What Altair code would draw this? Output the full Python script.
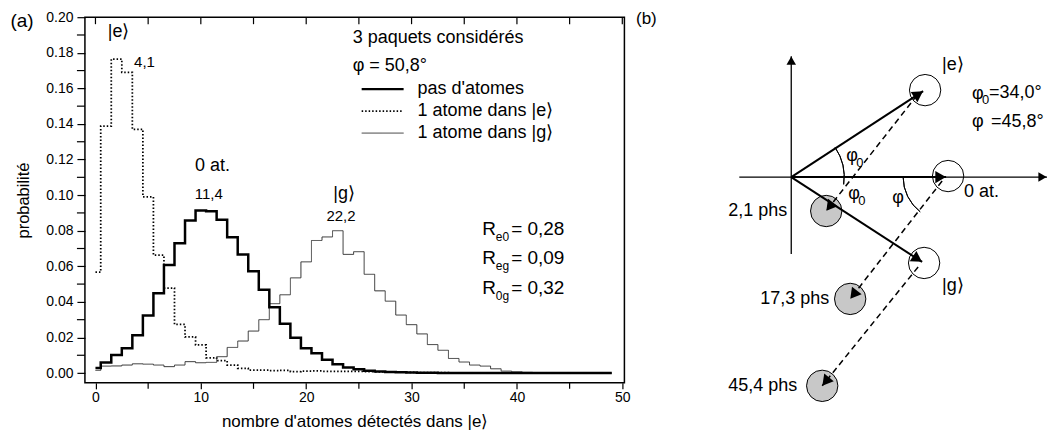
import math
import altair as alt
import pandas as pd

FONT = "Liberation Sans"

# ---------------- panel (a) data ----------------
n_atoms = list(range(50))
p_zero = [0.0028, 0.0060, 0.0101, 0.0140, 0.0212, 0.0324, 0.0448, 0.0607, 0.0729, 0.0857,
          0.0914, 0.0910, 0.0862, 0.0763, 0.0667, 0.0572, 0.0468, 0.0370, 0.0277, 0.0198,
          0.0140, 0.0112, 0.0075, 0.0049, 0.0031, 0.0021, 0.0013, 0.0009, 0.0006, 0.0004,
          0.0003, 0.0002, 0.0002, 0.0001, 0.0001, 0, 0, 0, 0, 0,
          0, 0, 0, 0, 0, 0, 0, 0, 0, 0]
p_e = [0.0567, 0.1388, 0.1765, 0.1690, 0.1370, 0.0990, 0.0663, 0.0478, 0.0273, 0.0203,
       0.0158, 0.0086, 0.0070, 0.0045, 0.0027, 0.0017, 0.0016, 0.0013, 0.0015, 0.0008,
       0.0011, 0.0012, 0.0010, 0.0010, 0.0009, 0.0009, 0.0008, 0.0007, 0.0006, 0.0005,
       0.0004, 0.0003, 0.0002, 0.0002, 0.0001, 0.0001, 0, 0, 0, 0,
       0, 0, 0, 0, 0, 0, 0, 0, 0, 0]
p_g = [0.0015, 0.0039, 0.0040, 0.0045, 0.0052, 0.0050, 0.0045, 0.0036, 0.0045, 0.0064,
       0.0058, 0.0060, 0.0092, 0.0144, 0.0180, 0.0236, 0.0300, 0.0390, 0.0440, 0.0535,
       0.0625, 0.0745, 0.0765, 0.0800, 0.0667, 0.0682, 0.0555, 0.0462, 0.0404, 0.0326,
       0.0272, 0.0220, 0.0160, 0.0128, 0.0082, 0.0062, 0.0045, 0.0039, 0.0024, 0.0011,
       0.0007, 0.0004, 0.0002, 0.0001, 0, 0, 0, 0, 0, 0]
series = ["pas d'atomes", "1 atome dans |e⟩", "1 atome dans |g⟩"]

x_major = [0, 10, 20, 30, 40, 50]
x_minor = [5, 15, 25, 35, 45]
y_major = [0.0, 0.02, 0.04, 0.06, 0.08, 0.10, 0.12, 0.14, 0.16, 0.18, 0.20]
y_minor = [0.01, 0.03, 0.05, 0.07, 0.09, 0.11, 0.13, 0.15, 0.17, 0.19]

ann_text = ["|e⟩", "4,1", "0 at.", "11,4", "|g⟩", "22,2"]
ann_x = [2.2, 4.65, 11.1, 10.75, 23.6, 23.3]
ann_y = [0.1915, 0.175, 0.1163, 0.1007, 0.1007, 0.0883]
ann_big = [True, False, True, False, True, False]

r_sub = ["e0", "eg", "0g"]
r_val = ["= 0,28", "= 0,09", "= 0,32"]
r_y = [0.0812, 0.0646, 0.0480]

# ---------------- panel (b) data ----------------
origin = (794, 176)
state_label = ["|e⟩", "0 at.", "|g⟩"]
state_cx = [928, 951, 927]
state_cy = [89, 175, 262]
tip_x = [926, 949, 925]
tip_y = [90, 176, 261]
phs_label = ["2,1 phs", "17,3 phs", "45,4 phs"]
phs_cx = [829, 853, 825]
phs_cy = [210, 298, 385]
dash_x0 = [920, 945, 921]
dash_y0 = [94, 180, 266]
axis_x0 = [794, 742]
axis_y0 = [253, 176]
axis_x1 = [794, 1050]
axis_y1 = [55, 176]

# ---------------- panel (a) ----------------
df = pd.DataFrame({
    "n": n_atoms * 3,
    "p": p_zero + p_e + p_g,
    "serie": [series[0]] * 50 + [series[1]] * 50 + [series[2]] * 50,
})

PLOT_W, PLOT_H = 540, 366
xs = alt.Scale(domain=[-1, 50.2], nice=False, zero=False)
ys = alt.Scale(domain=[-0.0055, 0.2], nice=False, zero=False)

leg = alt.Legend(
    title=["3 paquets considérés", "φ = 50,8°"], orient="none", legendX=268, legendY=12,
    symbolType="M0,0H8.4", symbolSize=100, labelOffset=47,
    labelFont=FONT, labelFontSize=18, labelColor="black", labelLimit=400,
    titleFont=FONT, titleFontSize=18, titleFontWeight="normal", titleColor="black",
    titleLineHeight=28, titlePadding=5, rowPadding=4, padding=0, titleLimit=400,
)

x_axis = alt.Axis(values=x_major, format="d", labelOverlap=False,
                  title="nombre d'atomes détectés dans |e⟩", titleFont=FONT, titleFontSize=17,
                  titleFontWeight="normal", titleColor="black", titlePadding=9,
                  labelFont=FONT, labelFontSize=14, labelColor="black", labelPadding=2,
                  tickSize=6, tickColor="black", tickWidth=1.2, domain=False, grid=False)
y_axis = alt.Axis(values=y_major, format=".2f", labelOverlap=False,
                  title="probabilité", titleFont=FONT, titleFontSize=16.5, titleFontWeight="normal",
                  titleColor="black", titlePadding=14,
                  labelFont=FONT, labelFontSize=14, labelColor="black", labelPadding=4,
                  tickSize=8, tickColor="black", tickWidth=1.2, domain=False, grid=False)


def AX(f):
    return alt.X(f, type="quantitative", scale=xs, axis=x_axis)


def AY(f):
    return alt.Y(f, type="quantitative", scale=ys, axis=y_axis)


def series_layer(data):
    return alt.Chart(data).mark_line(interpolate="step").encode(
        x=AX("n"),
        y=AY("p"),
        color=alt.Color("serie:N", scale=alt.Scale(domain=series, range=["#000000", "#000000", "#333333"]), legend=leg),
        strokeDash=alt.StrokeDash("serie:N", scale=alt.Scale(domain=series, range=[[1, 0], [1.5, 2], [1, 0]]), legend=leg),
        strokeWidth=alt.StrokeWidth("serie:N", scale=alt.Scale(domain=series, range=[2.5, 1.0, 1.5]), legend=leg),
    )


back = series_layer(df[df["serie"] != series[0]])
front = series_layer(df[df["serie"] == series[0]])

# minor ticks (outside, left and bottom) and mirrored ticks on top
tick_rule = dict(color="black", strokeWidth=1.2)
y_minor_ticks = alt.Chart(pd.DataFrame({"v": y_minor})).mark_rule(**tick_rule).encode(
    y=AY("v"), x=alt.value(-8), x2=alt.value(0))
x_minor_ticks = alt.Chart(pd.DataFrame({"v": x_minor})).mark_rule(**tick_rule).encode(
    x=AX("v"), y=alt.value(PLOT_H), y2=alt.value(PLOT_H + 6))
top_ticks = alt.Chart(pd.DataFrame({"v": x_major + x_minor})).mark_rule(**tick_rule).encode(
    x=AX("v"), y=alt.value(0), y2=alt.value(7))

ann_df = pd.DataFrame({"text": ann_text, "x": ann_x, "y": ann_y, "big": ann_big})
ann_big_layer = alt.Chart(ann_df[ann_df["big"]]).mark_text(font=FONT, fontSize=18, color="black").encode(
    x=AX("x"), y=AY("y"), text="text:N")
ann_small_layer = alt.Chart(ann_df[~ann_df["big"]]).mark_text(font=FONT, fontSize=15, color="black").encode(
    x=AX("x"), y=AY("y"), text="text:N")

r_df = pd.DataFrame({"R": ["R"] * 3, "sub": r_sub, "val": r_val, "y": r_y,
                     "xr": [36.7] * 3, "xs": [38.0] * 3, "xv": [39.45] * 3})
r_main = alt.Chart(r_df).mark_text(font=FONT, fontSize=19, align="left", color="black").encode(
    x=AX("xr"), y=AY("y"), text="R:N")
r_subs = alt.Chart(r_df).mark_text(font=FONT, fontSize=12, align="left", dy=8, color="black").encode(
    x=AX("xs"), y=AY("y"), text="sub:N")
r_vals = alt.Chart(r_df).mark_text(font=FONT, fontSize=19, align="left", color="black").encode(
    x=AX("xv"), y=AY("y"), text="val:N")

tag_a = alt.Chart(pd.DataFrame({"t": ["(a)"]})).mark_text(font=FONT, fontSize=19, color="black").encode(
    x=alt.value(-63), y=alt.value(4), text="t:N")

panel_a = alt.layer(back, front, y_minor_ticks, x_minor_ticks, top_ticks, ann_big_layer, ann_small_layer,
                    r_main, r_subs, r_vals, tag_a).properties(
    width=PLOT_W, height=PLOT_H, view=alt.ViewBackground(stroke="black", strokeWidth=1.5))

# ---------------- panel (b) ----------------
bx = alt.Scale(domain=[650, 1048], range=[0, 398], nice=False, zero=False)
by = alt.Scale(domain=[16, 382], range=[0, 366], nice=False, zero=False)


def X(f):
    return alt.X(f, type="quantitative", scale=bx, axis=None)


def Y(f):
    return alt.Y(f, type="quantitative", scale=by, axis=None)


def heads(x0s, y0s, x1s, y1s, length):
    rows = []
    for a, b, c, d in zip(x0s, y0s, x1s, y1s):
        dx, dy = c - a, d - b
        L = math.hypot(dx, dy)
        ux, uy = dx / L, dy / L
        rows.append({"x": c - ux * length / 2, "y": d - uy * length / 2,
                     "ang": math.degrees(math.atan2(dx, -dy)) % 360})
    return pd.DataFrame(rows)


axes_df = pd.DataFrame({"x": axis_x0, "y": axis_y0, "x2": axis_x1, "y2": axis_y1})
vec_df = pd.DataFrame({"x": [origin[0]] * 3, "y": [origin[1]] * 3, "x2": tip_x, "y2": tip_y})
dash_df = pd.DataFrame({"x": dash_x0, "y": dash_y0, "x2": phs_cx, "y2": phs_cy})

axes_lines = alt.Chart(axes_df).mark_rule(color="black", strokeWidth=1.3).encode(
    x=X("x"), y=Y("y"), x2="x2:Q", y2="y2:Q")
vec_lines = alt.Chart(vec_df).mark_rule(color="black", strokeWidth=2).encode(
    x=X("x"), y=Y("y"), x2="x2:Q", y2="y2:Q")
dash_lines = alt.Chart(dash_df).mark_rule(color="black", strokeWidth=1.5, strokeDash=[6, 4]).encode(
    x=X("x"), y=Y("y"), x2="x2:Q", y2="y2:Q")


def head_layer(dfh, size):
    return alt.Chart(dfh).mark_point(shape="triangle-up", filled=True, color="black", size=size, opacity=1).encode(
        x=X("x"), y=Y("y"), angle=alt.Angle("ang:Q", scale=None))


axes_heads = head_layer(heads(axis_x0, axis_y0, axis_x1, axis_y1, 9), 90)
vec_heads = head_layer(heads([origin[0]] * 3, [origin[1]] * 3, tip_x, tip_y, 11), 150)
dash_heads = head_layer(heads(dash_x0, dash_y0, phs_cx, phs_cy, 11), 150)

phs_df = pd.DataFrame({"x": phs_cx, "y": phs_cy, "label": phs_label})
state_df = pd.DataFrame({"x": state_cx, "y": state_cy, "label": state_label})
gray_circles = alt.Chart(phs_df).mark_point(shape="circle", size=985, filled=True, fill="#c8c8c8",
                                            stroke="black", strokeWidth=1, opacity=1).encode(x=X("x"), y=Y("y"))
open_circles = alt.Chart(state_df).mark_point(shape="circle", size=985, filled=False, color="black",
                                              strokeWidth=1, opacity=1).encode(x=X("x"), y=Y("y"))

arc_df = pd.DataFrame({"x": [origin[0], 950], "y": [origin[1], 176]})
arc_phi0 = alt.Chart(arc_df.iloc[[0]]).mark_arc(radius=53, radius2=53, theta=0.977, theta2=1.71,
                                                 filled=False, color="black", strokeWidth=1).encode(x=X("x"), y=Y("y"))
arc_phi = alt.Chart(arc_df.iloc[[1]]).mark_arc(radius=44, radius2=44, theta=3.80, theta2=4.71,
                                                filled=False, color="black", strokeWidth=1).encode(x=X("x"), y=Y("y"))

txt_left = alt.Chart(pd.DataFrame({"t": ["(b)"], "x": [649], "y": [18]})).mark_text(
    font=FONT, fontSize=17, color="black").encode(x=X("x"), y=Y("y"), text="t:N")
txt_states = alt.Chart(pd.DataFrame({"t": ["|e⟩", "0 at.", "|g⟩"], "x": [945, 967, 945], "y": [64, 191, 285]})).mark_text(
    font=FONT, fontSize=18, align="left", color="black").encode(x=X("x"), y=Y("y"), text="t:N")
txt_phs = alt.Chart(pd.DataFrame({"t": phs_label, "x": [790, 832, 800], "y": [210, 298, 385]})).mark_text(
    font=FONT, fontSize=18, align="right", color="black").encode(x=X("x"), y=Y("y"), text="t:N")
txt_phi = alt.Chart(pd.DataFrame({"t": ["φ", "φ", "φ", "φ", "φ"],
                                  "x": [975, 975, 849, 851, 895],
                                  "y": [93, 121, 155, 193, 197]})).mark_text(
    font=FONT, fontSize=18, align="left", color="black").encode(x=X("x"), y=Y("y"), text="t:N")
txt_sub = alt.Chart(pd.DataFrame({"t": ["0", "0", "0"], "x": [985, 859, 861], "y": [99, 162, 200]})).mark_text(
    font=FONT, fontSize=13, align="left", color="black").encode(x=X("x"), y=Y("y"), text="t:N")
txt_vals = alt.Chart(pd.DataFrame({"t": ["=34,0°", "=45,8°"], "x": [992, 994], "y": [92, 121]})).mark_text(
    font=FONT, fontSize=18, align="left", color="black").encode(x=X("x"), y=Y("y"), text="t:N")

panel_b = alt.layer(axes_lines, gray_circles, open_circles, vec_lines, dash_lines, axes_heads, vec_heads,
                    dash_heads, arc_phi0, arc_phi, txt_left, txt_states, txt_phs, txt_phi, txt_sub,
                    txt_vals).properties(
    width=398, height=366,
    view=alt.ViewBackground(stroke="white", strokeWidth=0, strokeOpacity=0))

chart = alt.hconcat(panel_a, panel_b, spacing=23, bounds="flush").properties(
    padding={"left": 1, "top": 1, "right": 0, "bottom": 0}
).configure_view(strokeOpacity=0).configure(font=FONT)

chart.save("out.html", embed_options={"renderer": "svg", "actions": False})
